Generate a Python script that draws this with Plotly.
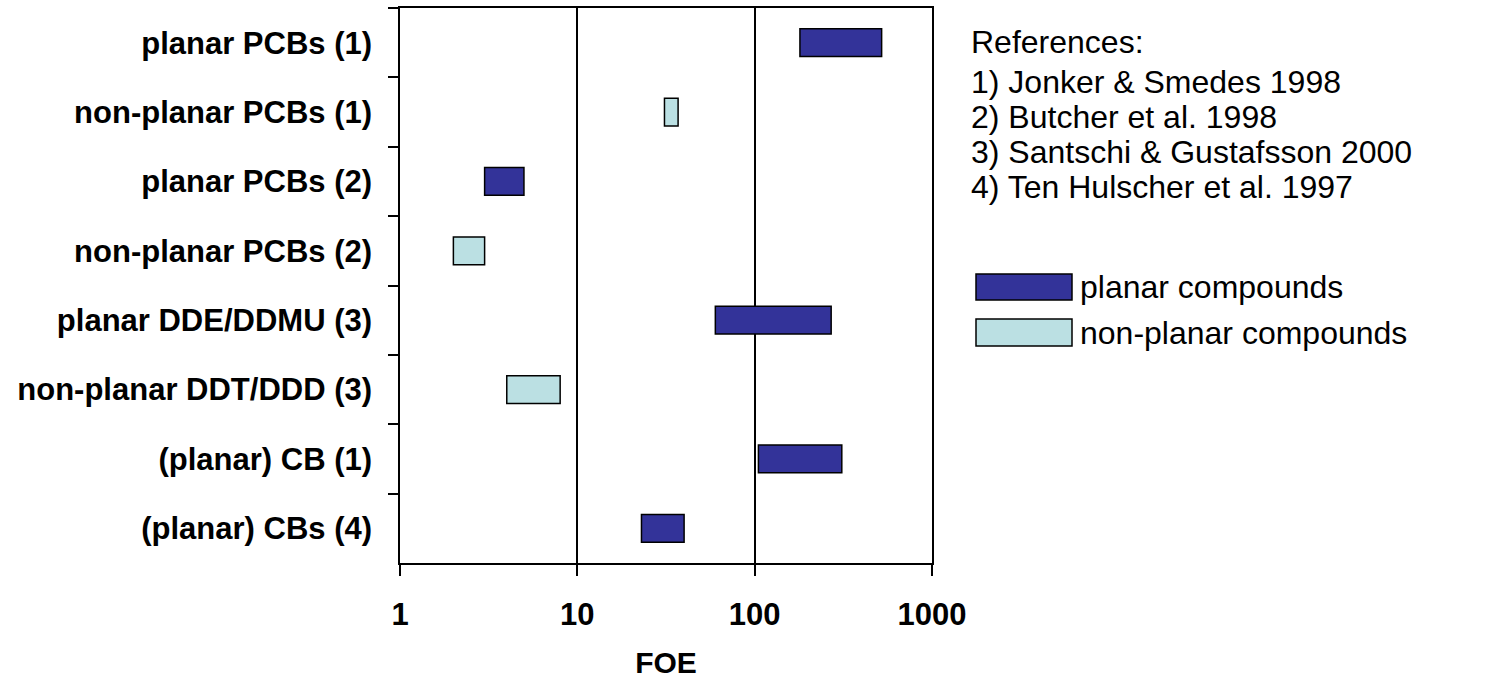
import plotly.graph_objects as go

# Compounds (top to bottom) and FOE ranges
categories = [
    "planar PCBs (1)",
    "non-planar PCBs (1)",
    "planar PCBs (2)",
    "non-planar PCBs (2)",
    "planar DDE/DDMU (3)",
    "non-planar DDT/DDD (3)",
    "(planar) CB (1)",
    "(planar) CBs (4)",
]
foe_low = [180, 31, 3, 2, 60, 4, 105, 23]
foe_high = [520, 37, 5, 3, 270, 8, 310, 40]
is_planar = [True, False, True, False, True, False, True, True]

x_tickvals = [1, 10, 100, 1000]
x_ticktext = ["1", "10", "100", "1000"]

references = [
    "References:",
    "1) Jonker & Smedes 1998",
    "2) Butcher et al. 1998",
    "3) Santschi & Gustafsson 2000",
    "4) Ten Hulscher et al. 1997",
]
legend_labels = ["planar compounds", "non-planar compounds"]

PLANAR_COLOR = "#333399"
NONPLANAR_COLOR = "#BBE0E3"
FONT = "Liberation Sans, Arial, sans-serif"

W, H = 1490, 679
L, R, T, B = 400, 932, 8, 563


def px_x(px):
    return (px - L) / (R - L)


def px_y(py):
    return (B - py) / (B - T)


fig = go.Figure()

for planar, color, name in [(True, PLANAR_COLOR, legend_labels[0]),
                            (False, NONPLANAR_COLOR, legend_labels[1])]:
    idx = [i for i, p in enumerate(is_planar) if p == planar]
    fig.add_trace(go.Bar(
        orientation="h",
        y=[categories[i] for i in idx],
        base=[foe_low[i] for i in idx],
        x=[foe_high[i] - foe_low[i] for i in idx],
        marker=dict(color=color, line=dict(color="black", width=1.5)),
        width=0.4,
        name=name,
        showlegend=False,
    ))

# reference list
ref_y = [42, 82, 117, 152, 187]
for txt, yy in zip(references, ref_y):
    fig.add_annotation(
        text=txt, xref="paper", yref="paper",
        x=px_x(969), y=px_y(yy), xanchor="left", yanchor="middle",
        showarrow=False, font=dict(family=FONT, size=32, color="black"),
    )

# colour key
key_boxes = [(274, 300), (319, 346)]
for (y0, y1), color, label in zip(key_boxes, [PLANAR_COLOR, NONPLANAR_COLOR], legend_labels):
    fig.add_shape(
        type="rect", xref="paper", yref="paper",
        x0=px_x(976), x1=px_x(1072), y0=px_y(y1), y1=px_y(y0),
        fillcolor=color, line=dict(color="black", width=1.5),
    )
    fig.add_annotation(
        text=label, xref="paper", yref="paper",
        x=px_x(1078), y=px_y((y0 + y1) / 2), xanchor="left", yanchor="middle",
        showarrow=False, font=dict(family=FONT, size=32, color="black"),
    )

fig.update_layout(
    width=W, height=H,
    margin=dict(l=L, r=W - R, t=T, b=H - B),
    paper_bgcolor="white", plot_bgcolor="white",
    barmode="overlay",
    font=dict(family=FONT, color="black"),
    showlegend=False,
)

fig.update_xaxes(
    type="log", range=[0, 3],
    tickvals=x_tickvals, ticktext=x_ticktext,
    tickfont=dict(family=FONT, size=31, color="black", weight="bold"),
    ticks="outside", ticklen=11, tickwidth=1.5, tickcolor="black",
    ticklabelstandoff=12,
    showgrid=True, gridcolor="black", gridwidth=1.5,
    showline=True, linecolor="black", linewidth=1.5, mirror=True,
    zeroline=False, automargin=False,
    title=dict(text="FOE", font=dict(family=FONT, size=30, color="black", weight="bold"),
               standoff=28),
)

fig.update_yaxes(
    type="category", categoryorder="array", categoryarray=categories,
    autorange="reversed",
    tickson="boundaries",
    tickfont=dict(family=FONT, size=31, color="black", weight="bold"),
    ticks="outside", ticklen=10, tickwidth=1.5, tickcolor="black",
    ticklabelstandoff=20,
    showgrid=False,
    showline=True, linecolor="black", linewidth=1.5, mirror=True,
    zeroline=False, automargin=False,
)

fig.write_html("out.html")
